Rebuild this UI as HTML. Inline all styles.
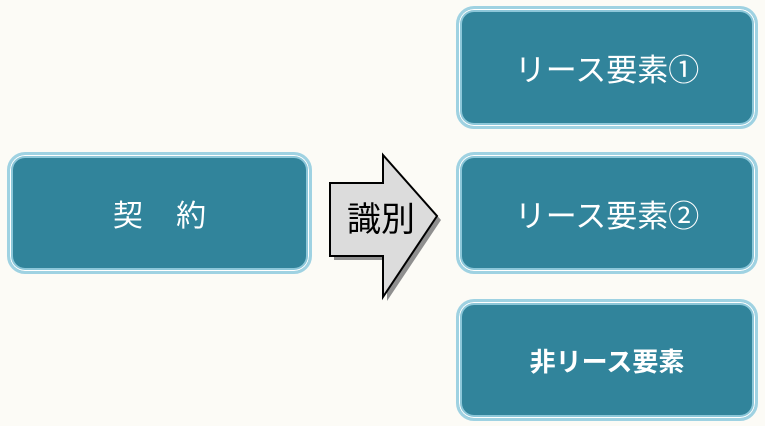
<!DOCTYPE html>
<html><head><meta charset="utf-8"><style>
html,body{margin:0;padding:0;}
body{width:765px;height:426px;background:#fcfbf6;position:relative;overflow:hidden;font-family:"Liberation Sans","Noto Sans CJK JP",sans-serif;}
.b{position:absolute;box-sizing:border-box;background:#31849b;border-radius:18px;
 border:3px solid #9fd2e2;box-shadow:inset 0 0 0 1px #fff,inset 0 0 0 3px #8cc7d9;
 color:#fff;display:flex;align-items:center;justify-content:center;}
</style></head><body>
<div class="b" style="left:456px;top:6px;width:302px;height:123px;font-size:31px;">リース要素①</div>
<div class="b" style="left:456px;top:152px;width:302px;height:122px;font-size:31px;">リース要素②</div>
<div class="b" style="left:456px;top:299px;width:302px;height:122px;font-size:26px;font-weight:bold;">非リース要素</div>
<div class="b" style="left:7px;top:152px;width:305px;height:122px;font-size:30px;">契&nbsp;&nbsp;&nbsp;&nbsp;約</div>
<svg style="position:absolute;left:0;top:0" width="765" height="426">
<polygon points="334,187 387,187 387,159 441,220 387,301 387,260 334,260" fill="#8f8f8f"/>
<polygon points="330,183 383,183 383,155 437,216 383,297 383,256 330,256" fill="#dcdcdc" stroke="#000" stroke-width="2"/>
<text x="381" y="231" font-size="34" text-anchor="middle" fill="#000" font-family="Liberation Sans, Noto Sans CJK JP, sans-serif">識別</text>
</svg>
</body></html>
